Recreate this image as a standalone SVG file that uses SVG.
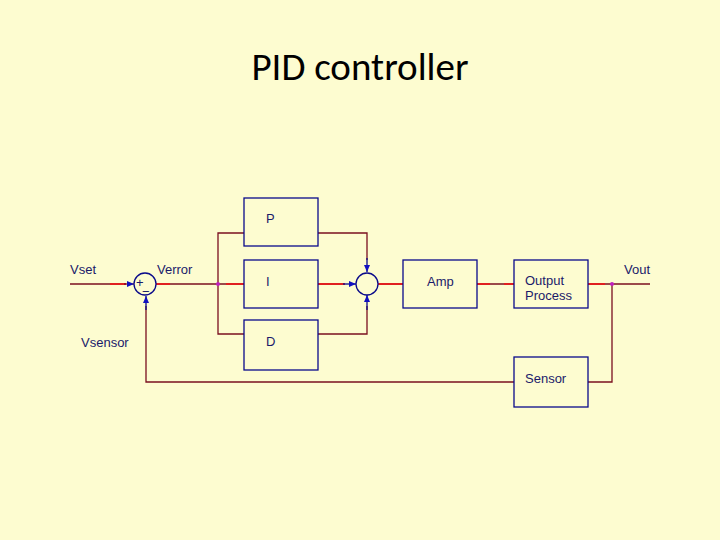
<svg xmlns="http://www.w3.org/2000/svg" width="720" height="540" viewBox="0 0 720 540">
<style>
.b{fill:none;stroke:#0a0a8a;stroke-width:1.3}
.t{font-family:"Liberation Sans",Arial,sans-serif;font-size:13px;fill:#1a1a6a}
.w{fill:none;stroke:#7a0f1f;stroke-width:1.3}
.r{fill:none;stroke:#e02020;stroke-width:2}
</style>
<defs><marker id="a" markerWidth="8" markerHeight="8" refX="7" refY="4" orient="auto" markerUnits="userSpaceOnUse"><path d="M0,1 L7,4 L0,7 Z" fill="#1010c0"/></marker></defs>
<rect width="720" height="540" fill="#fdfcd0"/>
<text x="360" y="80" text-anchor="middle" font-family="Calibri,'Liberation Sans',sans-serif" font-size="39" fill="#000">PID controller</text>
<g id="connectors">
<path class="w" d="M70,284 H126"/><path class="r" d="M110,284 H126"/>
<path class="w" d="M124,284 H134" marker-end="url(#a)" stroke="#1010c0"/>
<path class="w" d="M156,284 H244"/><path class="r" d="M156,284 H170 M226,284 H244"/>
<path class="w" d="M218,284 V233 H244 M218,284 V334 H244"/>
<path class="w" d="M318,233 H367 V260 M318,334 H367 V306"/>
<path class="b" d="M367,258 V272" marker-end="url(#a)"/>
<path class="b" d="M367,310 V295" marker-end="url(#a)"/>
<path class="r" d="M318,284 H345"/><path class="b" d="M343,284 H356" marker-end="url(#a)"/>
<path class="r" d="M378,284 H403"/>
<path class="w" d="M477,284 H514"/><path class="r" d="M477,284 H490 M504,284 H514"/>
<path class="w" d="M588,284 H650"/><path class="r" d="M588,284 H605"/>
<path class="w" d="M612,284 V382 H588"/>
<path class="w" d="M514,382 H146 V306"/>
<path class="b" d="M146,310 V296" marker-end="url(#a)"/>
<circle cx="218" cy="284" r="2" fill="#c020c0"/>
<circle cx="612" cy="284" r="2" fill="#c020c0"/>
</g>
<g id="sum1"><circle class="b" cx="145" cy="284" r="11" fill="#fdfcd0"/><text x="136" y="287" class="t" font-size="8">+</text><text x="142" y="296" class="t" font-size="8">−</text></g>
<g id="sum2"><circle class="b" cx="367" cy="284" r="11" fill="#fdfcd0"/></g>
<g id="P"><rect class="b" x="244" y="198" width="74" height="48"/><text class="t" x="266" y="223">P</text></g>
<g id="I"><rect class="b" x="244" y="260" width="74" height="48"/><text class="t" x="266" y="286">I</text></g>
<g id="D"><rect class="b" x="244" y="320" width="74" height="50"/><text class="t" x="266" y="346">D</text></g>
<g id="Amp"><rect class="b" x="403" y="260" width="74" height="48"/><text class="t" x="427" y="286">Amp</text></g>
<g id="Output"><rect class="b" x="514" y="260" width="74" height="48"/><text class="t" x="525" y="285">Output</text><text class="t" x="525" y="300">Process</text></g>
<g id="Sensor"><rect class="b" x="514" y="357" width="74" height="50"/><text class="t" x="525" y="383">Sensor</text></g>
<g id="labels">
<text class="t" x="70" y="274">Vset</text>
<text class="t" x="157" y="274">Verror</text>
<text class="t" x="81" y="347">Vsensor</text>
<text class="t" x="624" y="274">Vout</text>
</g>
</svg>
